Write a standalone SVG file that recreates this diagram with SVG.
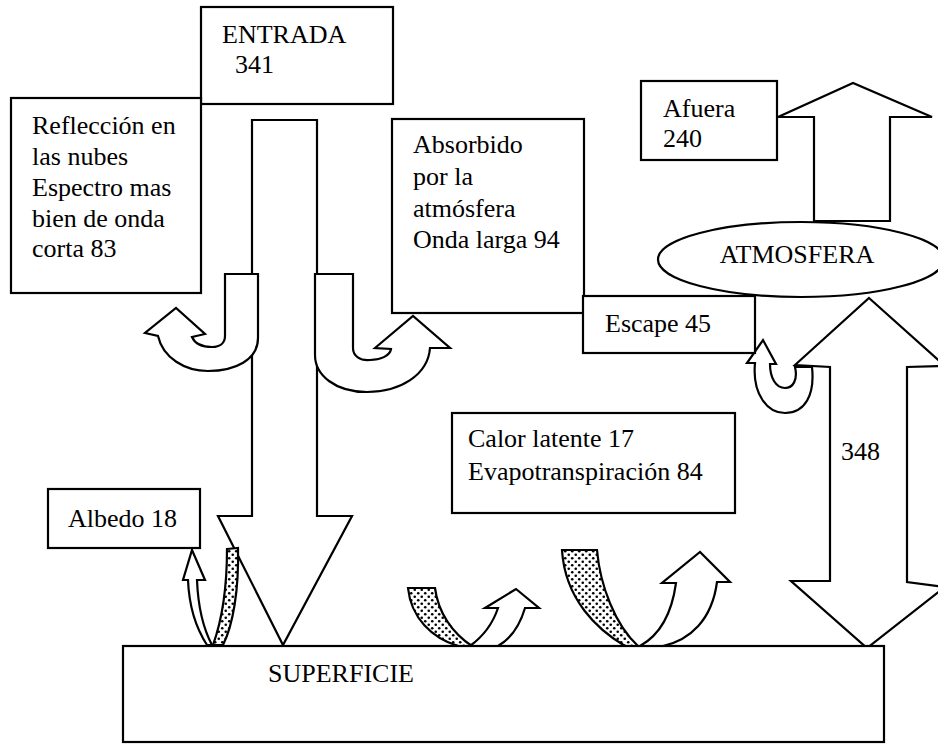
<svg xmlns="http://www.w3.org/2000/svg" width="938" height="744" viewBox="0 0 938 744">
<defs>
<pattern id="dots" width="7" height="7" patternUnits="userSpaceOnUse">
<rect width="7" height="7" fill="#fff"/>
<circle cx="1.75" cy="1.75" r="1.3" fill="#000"/>
<circle cx="5.25" cy="5.25" r="1.3" fill="#000"/>
</pattern>
<style>
.box{fill:#fff;stroke:#000;stroke-width:2.2}
.arr{fill:#fff;stroke:#000;stroke-width:2.2;stroke-linejoin:miter}
.dot{fill:url(#dots);stroke:#000;stroke-width:2.2}
text{font-family:"Liberation Serif","Times New Roman",serif;font-size:26px;fill:#000}
</style>
</defs>
<rect width="938" height="744" fill="#fff"/>

<g id="connectors">
<path class="arr" d="M252 120 L317 120 L317 516 L352 516 L283 645 L218 516 L252 516 Z"/>
<path class="arr" d="M225 274 L258 274 L258 338 C258 360 235 371 208 371 C185 371 163 358 158 336 L145 333 L176 308 L205 334 L192 337 C195 344 203 347 212 347 C220 347 225 343 225 336 Z"/>
<path class="arr" d="M315 274 L353 274 L353 348 C353 356 360 361 370 360 C380 360 390 356 391 349 L375 348 L413 316 L450 348 L430 348 C428 375 400 392 367 392 C335 392 315 375 315 355 Z"/>
<path class="arr" d="M814 221 L814 117 L778 117 L853 83 L932 117 L890 117 L890 221 Z"/>
<path class="arr" d="M869 298 L945 366 L907 367 L907 582 L945 587 L867 648 L791 581 L830 581 L830 367 L795 365 Z"/>
<path class="arr" d="M770 364 L776 364 L763 340 L747 363 L755 363 C752 395 768 413 785 413 C805 413 815 395 812 367 L795 367 C798 380 793 388 785 388 C776 388 770 378 770 364 Z"/>
<path class="arr" d="M188 580 L183 580 L192 550 L205 580 L197 580 C198 605 203 628 212 645 L207 645 C196 628 189 605 188 580 Z"/>
<path class="dot" d="M227 549 L238 548 C239 590 233 625 223 645 L213 645 C222 620 227 590 227 549 Z"/>
<path class="dot" d="M408 588 L435 588 C438 612 452 633 472 646 L458 646 C432 638 411 618 408 588 Z"/>
<path class="arr" d="M470 646 C485 635 494 620 498 608 L485 608 L516 589 L539 608 L525 608 C520 625 512 638 498 646 Z"/>
<path class="dot" d="M562 550 L597 550 C600 585 615 625 638 646 L625 646 C598 630 565 600 562 550 Z"/>
<path class="arr" d="M640 646 C660 635 672 612 676 583 L662 583 L700 552 L730 582 L717 582 C712 620 690 640 663 646 Z"/>
</g>

<g id="entrada">
<rect class="box" x="201" y="7" width="192" height="97"/>
<text x="222" y="43">ENTRADA</text>
<text x="235" y="73">341</text>
</g>

<g id="reflexion">
<rect class="box" x="11" y="98" width="190" height="195"/>
<text x="32" y="134">Reflección en</text>
<text x="32" y="165">las nubes</text>
<text x="32" y="196">Espectro mas</text>
<text x="32" y="227">bien de onda</text>
<text x="32" y="257">corta 83</text>
</g>

<g id="absorbido">
<rect class="box" x="392" y="119" width="192" height="194"/>
<text x="413" y="153">Absorbido</text>
<text x="413" y="185">por la</text>
<text x="413" y="217">atmósfera</text>
<text x="413" y="248">Onda larga 94</text>
</g>

<g id="escape">
<rect class="box" x="583" y="296" width="172" height="57"/>
<text x="605" y="332">Escape 45</text>
</g>

<g id="afuera">
<rect class="box" x="641" y="81" width="136" height="79"/>
<text x="663" y="117">Afuera</text>
<text x="663" y="147">240</text>
</g>

<g id="atmosfera">
<ellipse class="box" cx="801" cy="259.5" rx="143" ry="37.5"/>
<text x="797" y="263" text-anchor="middle">ATMOSFERA</text>
</g>

<g id="label348">
<text x="841" y="460">348</text>
</g>

<g id="calor">
<rect class="box" x="452" y="413" width="283" height="100"/>
<text x="468" y="447">Calor latente 17</text>
<text x="468" y="480">Evapotranspiración 84</text>
</g>

<g id="albedo">
<rect class="box" x="48" y="489" width="152" height="59"/>
<text x="68" y="527">Albedo 18</text>
</g>

<g id="superficie">
<rect class="box" x="123" y="646" width="761" height="96"/>
<text x="268" y="682">SUPERFICIE</text>
</g>
</svg>
